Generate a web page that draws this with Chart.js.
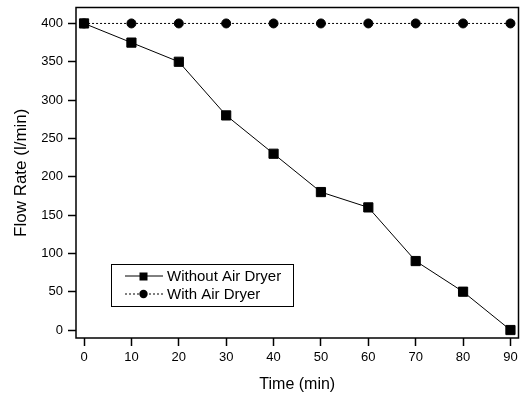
<!DOCTYPE html>
<html>
<head>
<meta charset="utf-8">
<script src="https://cdn.jsdelivr.net/npm/chart.js@4/dist/chart.umd.min.js"></script>
<style>
  html, body { margin: 0; padding: 0; background: #fff; }
  #wrap { width: 526px; height: 394px; }
</style>
</head>
<body>
<div id="wrap"><canvas id="flowChart" width="526" height="394"></canvas></div>
<script>
// Data
const timeMin = [0, 10, 20, 30, 40, 50, 60, 70, 80, 90];
const withoutDryer = [400, 375, 350, 280, 230, 180, 160, 90, 50, 0];
const withDryer = [400, 400, 400, 400, 400, 400, 400, 400, 400, 400];
const xTicks = [0, 10, 20, 30, 40, 50, 60, 70, 80, 90];
const yTicks = [0, 50, 100, 150, 200, 250, 300, 350, 400];

const FONT = 'Liberation Sans, Arial, Helvetica, sans-serif';

// Frame round the plot area plus the boxed legend
const framePlugin = {
    id: 'frame',
    afterDraw(chart) {
        const { ctx, chartArea: a } = chart;
        ctx.save();
        ctx.strokeStyle = '#000';
        ctx.lineWidth = 1.5;
        ctx.strokeRect(a.left, a.top, a.right - a.left, a.bottom - a.top);

        // legend box
        const bx = 111, by = 264, bw = 182, bh = 42;
        ctx.lineWidth = 1;
        ctx.strokeRect(bx + 0.5, by + 0.5, bw, bh);
        ctx.font = '15px ' + FONT;
        ctx.textBaseline = 'middle';
        chart.data.datasets.forEach((ds, i) => {
            const y = by + 12 + i * 18;
            ctx.strokeStyle = '#000';
            ctx.lineWidth = 1;
            ctx.setLineDash(ds.borderDash || []);
            ctx.beginPath();
            ctx.moveTo(bx + 14, y);
            ctx.lineTo(bx + 52, y);
            ctx.stroke();
            ctx.setLineDash([]);
            ctx.fillStyle = '#000';
            if (ds.pointStyle === 'rect') {
                ctx.fillRect(bx + 28.5, y - 3.5, 8, 8);
            } else {
                ctx.beginPath();
                ctx.arc(bx + 32.5, y, 4.2, 0, Math.PI * 2);
                ctx.fill();
            }
            ctx.fillText(ds.label, bx + 56, y + 1);
        });
        ctx.restore();
    }
};

new Chart(document.getElementById('flowChart'), {
    type: 'line',
    data: {
        datasets: [{
            label: 'Without Air Dryer',
            data: timeMin.map((t, i) => ({ x: t, y: withoutDryer[i] })),
            borderColor: '#000',
            backgroundColor: '#000',
            borderWidth: 1,
            pointStyle: 'rect',
            pointRadius: 6.5,
            pointHoverRadius: 6.5,
            tension: 0
        }, {
            label: 'With Air Dryer',
            data: timeMin.map((t, i) => ({ x: t, y: withDryer[i] })),
            borderColor: '#000',
            backgroundColor: '#000',
            borderWidth: 1,
            borderDash: [2, 2],
            pointStyle: 'circle',
            pointRadius: 4.5,
            pointHoverRadius: 4.5,
            tension: 0
        }]
    },
    options: {
        responsive: false,
        animation: false,
        layout: { padding: { top: 7, right: 5, left: 0, bottom: 0 } },
        plugins: {
            legend: { display: false },
            tooltip: { enabled: false }
        },
        scales: {
            x: {
                type: 'linear',
                min: -1.7,
                max: 91.7,
                afterBuildTicks: s => { s.ticks = xTicks.map(v => ({ value: v })); },
                afterFit: s => { s.height = 56; s.paddingLeft = 0; s.paddingRight = 0; },
                grid: { drawOnChartArea: false, tickLength: 8, color: '#000', tickWidth: 1.5 },
                border: { display: false },
                ticks: { color: '#000', font: { family: FONT, size: 13 }, padding: 4, maxRotation: 0 },
                title: { display: true, text: 'Time (min)', color: '#000', font: { family: FONT, size: 16 }, padding: { top: 0, bottom: 0 } }
            },
            y: {
                min: -10.4,
                max: 420.8,
                afterBuildTicks: s => { s.ticks = yTicks.map(v => ({ value: v })); },
                afterFit: s => { s.width = 76; s.paddingTop = 0; s.paddingBottom = 0; },
                grid: { drawOnChartArea: false, tickLength: 8, color: '#000', tickWidth: 1.5 },
                border: { display: false },
                ticks: { color: '#000', font: { family: FONT, size: 13 }, padding: 5 },
                title: { display: true, text: 'Flow Rate (l/min)', color: '#000', font: { family: FONT, size: 17 }, padding: { top: 11, bottom: 0 } }
            }
        }
    },
    plugins: [framePlugin]
});
</script>
</body>
</html>
